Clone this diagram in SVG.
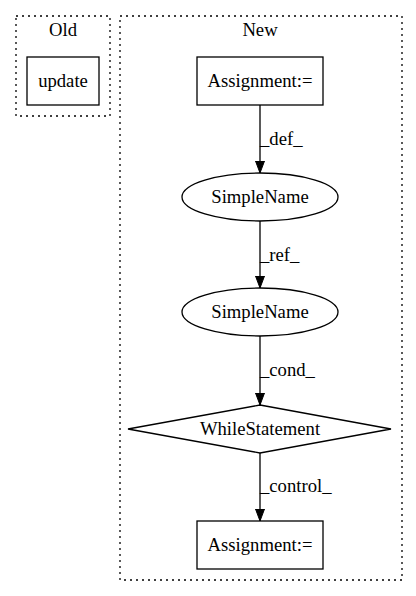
<svg xmlns="http://www.w3.org/2000/svg" width="416" height="596" viewBox="0 0 416 596">
<defs>
<marker id="arr" markerWidth="14" markerHeight="12" refX="12" refY="5" orient="auto" markerUnits="userSpaceOnUse">
<path d="M0,0.5 L12,5 L0,9.5 Z" fill="#000" stroke="#000"/>
</marker>
</defs>
<style>
text{font-family:"Liberation Serif","Times New Roman",serif;font-size:18.67px;fill:#000}
.c{text-anchor:middle}
.cl{fill:none;stroke:#000;stroke-width:1.3;stroke-dasharray:2,4}
.n{fill:#fff;stroke:#000;stroke-width:1.3}
.e{fill:none;stroke:#000;stroke-width:1.3}
</style>
<rect width="416" height="596" fill="#fff"/>
<g id="cluster_old">
<rect class="cl" x="16" y="16" width="94" height="100"/>
<text class="c" x="63" y="36">Old</text>
</g>
<g id="cluster_new">
<rect class="cl" x="120" y="16" width="282" height="564"/>
<text class="c" x="260" y="36">New</text>
</g>
<g id="update">
<rect class="n" x="27" y="57" width="72" height="48"/>
<text class="c" x="63" y="87">update</text>
</g>
<g id="assign1">
<rect class="n" x="197" y="57" width="126" height="48"/>
<text class="c" x="260" y="87">Assignment:=</text>
</g>
<g id="simplename1">
<ellipse class="n" cx="260" cy="197" rx="78" ry="24"/>
<text class="c" x="260" y="203">SimpleName</text>
</g>
<g id="simplename2">
<ellipse class="n" cx="260" cy="312" rx="78" ry="24"/>
<text class="c" x="260" y="318">SimpleName</text>
</g>
<g id="while">
<polygon class="n" points="260,405 391,429 260,453 128,429"/>
<text class="c" x="260" y="435">WhileStatement</text>
</g>
<g id="assign2">
<rect class="n" x="197" y="521" width="126" height="48"/>
<text class="c" x="260" y="551">Assignment:=</text>
</g>
<g id="edges">
<line class="e" x1="260" y1="105" x2="260" y2="173" marker-end="url(#arr)"/>
<text x="260" y="145">_def_</text>
<line class="e" x1="260" y1="221" x2="260" y2="288" marker-end="url(#arr)"/>
<text x="260" y="261">_ref_</text>
<line class="e" x1="260" y1="336" x2="260" y2="405" marker-end="url(#arr)"/>
<text x="260" y="376">_cond_</text>
<line class="e" x1="260" y1="453" x2="260" y2="521" marker-end="url(#arr)"/>
<text x="260" y="492">_control_</text>
</g>
</svg>
